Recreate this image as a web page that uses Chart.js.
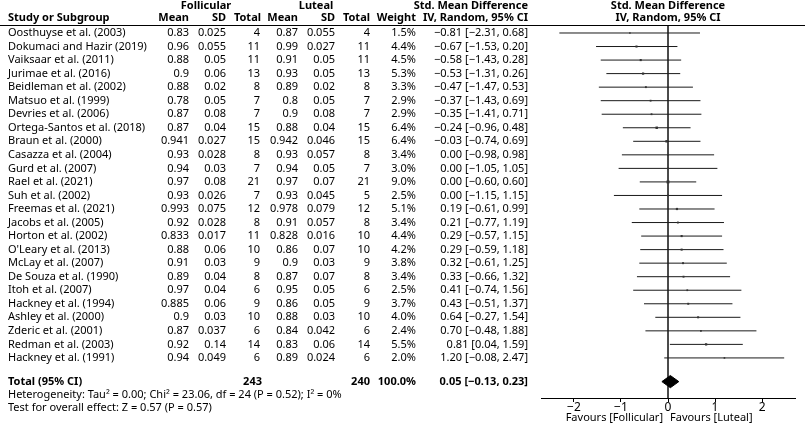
<!DOCTYPE html>
<html>
<head>
<meta charset="utf-8">
<script src="https://cdn.jsdelivr.net/npm/chart.js@4.4.1/dist/chart.umd.min.js"></script>
<style>
  body { margin: 0; background: #fff; }
  #wrap { width: 805px; height: 423px; position: relative; }
</style>
</head>
<body>
<div id="wrap"><canvas id="forest"></canvas></div>
<script>
// Study data
const studies = [
    'Oosthuyse et al. (2003)', 'Dokumaci and Hazir (2019)', 'Vaiksaar et al. (2011)',
    'Jurimae et al. (2016)', 'Beidleman et al. (2002)', 'Matsuo et al. (1999)',
    'Devries et al. (2006)', 'Ortega-Santos et al. (2018)', 'Braun et al. (2000)',
    'Casazza et al. (2004)', 'Gurd et al. (2007)', 'Rael et al. (2021)',
    'Suh et al. (2002)', 'Freemas et al. (2021)', 'Jacobs et al. (2005)',
    'Horton et al. (2002)', "O'Leary et al. (2013)", 'McLay et al. (2007)',
    'De Souza et al. (1990)', 'Itoh et al. (2007)', 'Hackney et al. (1994)',
    'Ashley et al. (2000)', 'Zderic et al. (2001)', 'Redman et al. (2003)',
    'Hackney et al. (1991)'
];
const follMean = [0.83, 0.96, 0.88, 0.9, 0.88, 0.78, 0.87, 0.87, 0.941, 0.93, 0.94, 0.97, 0.93,
    0.993, 0.92, 0.833, 0.88, 0.91, 0.89, 0.97, 0.885, 0.9, 0.87, 0.92, 0.94];
const follSD = [0.025, 0.055, 0.05, 0.06, 0.02, 0.05, 0.08, 0.04, 0.027, 0.028, 0.03, 0.08, 0.026,
    0.075, 0.028, 0.017, 0.06, 0.03, 0.04, 0.04, 0.06, 0.03, 0.037, 0.14, 0.049];
const follN = [4, 11, 11, 13, 8, 7, 7, 15, 15, 8, 7, 21, 7, 12, 8, 11, 10, 9, 8, 6, 9, 10, 6, 14, 6];
const lutMean = [0.87, 0.99, 0.91, 0.93, 0.89, 0.8, 0.9, 0.88, 0.942, 0.93, 0.94, 0.97, 0.93,
    0.978, 0.91, 0.828, 0.86, 0.9, 0.87, 0.95, 0.86, 0.88, 0.84, 0.83, 0.89];
const lutSD = [0.055, 0.027, 0.05, 0.05, 0.02, 0.05, 0.08, 0.04, 0.046, 0.057, 0.05, 0.07, 0.045,
    0.079, 0.057, 0.016, 0.07, 0.03, 0.07, 0.05, 0.05, 0.03, 0.042, 0.06, 0.024];
const lutN = [4, 11, 11, 13, 8, 7, 7, 15, 15, 8, 7, 21, 5, 12, 8, 10, 10, 9, 8, 6, 9, 10, 6, 14, 6];
const weights = [1.5, 4.4, 4.5, 5.3, 3.3, 2.9, 2.9, 6.4, 6.4, 3.4, 3.0, 9.0, 2.5, 5.1, 3.4, 4.4,
    4.2, 3.8, 3.4, 2.5, 3.7, 4.0, 2.4, 5.5, 2.0];
const smd = [-0.81, -0.67, -0.58, -0.53, -0.47, -0.37, -0.35, -0.24, -0.03, 0.00, 0.00, 0.00, 0.00,
    0.19, 0.21, 0.29, 0.29, 0.32, 0.33, 0.41, 0.43, 0.64, 0.70, 0.81, 1.20];
const ciLow = [-2.31, -1.53, -1.43, -1.31, -1.47, -1.43, -1.41, -0.96, -0.74, -0.98, -1.05, -0.60, -1.15,
    -0.61, -0.77, -0.57, -0.59, -0.61, -0.66, -0.74, -0.51, -0.27, -0.48, 0.04, -0.08];
const ciHigh = [0.68, 0.20, 0.28, 0.26, 0.53, 0.69, 0.71, 0.48, 0.69, 0.98, 1.05, 0.60, 1.15,
    0.99, 1.19, 1.15, 1.18, 1.25, 1.32, 1.56, 1.37, 1.54, 1.88, 1.59, 2.47];

// Pooled result
const totalFoll = 243;
const totalLut = 240;
const totalWeight = 100.0;
const totalSmd = 0.05;
const totalLow = -0.13;
const totalHigh = 0.23;
const heterogeneityText = 'Heterogeneity: Tau\u00b2 = 0.00; Chi\u00b2 = 23.06, df = 24 (P = 0.52); I\u00b2 = 0%';
const overallText = 'Test for overall effect: Z = 0.57 (P = 0.57)';

const xTicks = [-2, -1, 0, 1, 2];

// Row positions (row index on the y scale)
const totalRow = 25.75;
const yMin = -0.59;
const yMax = 26.96;

const FONT = '"Noto Sans", "DejaVu Sans", sans-serif';

function fmt(v) {
    const s = v.toFixed(2);
    return v < 0 ? '\u2212' + s.slice(1) : s;
}
function ciText(m, lo, hi) {
    return fmt(m) + ' [' + fmt(lo) + ', ' + fmt(hi) + ']';
}

// CI lines, one dataset per study
const ciSets = studies.map((s, i) => ({
    label: s,
    data: [{ x: ciLow[i], y: i }, { x: ciHigh[i], y: i }],
    showLine: true,
    borderColor: '#1a1a1a',
    borderWidth: 1,
    pointRadius: 0,
    order: 2
}));

const pointSet = {
    label: 'SMD',
    data: smd.map((v, i) => ({ x: v, y: i })),
    pointStyle: 'rect',
    pointRadius: weights.map(w => 0.9 + w * 0.13),
    backgroundColor: '#333',
    borderWidth: 0,
    showLine: false,
    order: 1
};

const zeroLine = {
    label: 'zero',
    data: [{ x: 0, y: yMin }, { x: 0, y: yMax }],
    showLine: true,
    borderColor: '#333',
    borderWidth: 1,
    pointRadius: 0,
    order: 3
};

const diamond = {
    label: 'Total',
    data: [
        { x: totalLow, y: totalRow },
        { x: totalSmd, y: totalRow - 0.45 },
        { x: totalHigh, y: totalRow },
        { x: totalSmd, y: totalRow + 0.45 },
        { x: totalLow, y: totalRow }
    ],
    showLine: true,
    fill: 'shape',
    backgroundColor: '#000',
    borderColor: '#000',
    borderWidth: 1,
    pointRadius: 0,
    tension: 0,
    order: 0
};

// Draws the table part of the forest plot
const tablePlugin = {
    id: 'forestTable',
    afterDraw(chart) {
        const ctx = chart.ctx;
        const y = chart.scales.y;
        const x = chart.scales.x;
        ctx.save();
        ctx.fillStyle = '#000';
        ctx.textBaseline = 'middle';

        function txt(s, px, py, align, bold, size) {
            ctx.font = (bold ? 'bold ' : '') + (size || 11) + 'px ' + FONT;
            ctx.textAlign = align;
            ctx.fillText(s, px, py);
        }

        // headers
        txt('Follicular', 206, 6, 'center', true);
        txt('Luteal', 316, 6, 'center', true);
        txt('Std. Mean Difference', 528, 6, 'right', true);
        txt('IV, Random, 95% CI', 528, 18, 'right', true);
        txt('Std. Mean Difference', x.getPixelForValue(0), 6, 'center', true);
        txt('IV, Random, 95% CI', x.getPixelForValue(0), 18, 'center', true);
        txt('Study or Subgroup', 8, 18, 'left', true);
        txt('Mean', 189, 18, 'right', true);
        txt('SD', 226, 18, 'right', true);
        txt('Total', 261, 18, 'right', true);
        txt('Mean', 298, 18, 'right', true);
        txt('SD', 335, 18, 'right', true);
        txt('Total', 370, 18, 'right', true);
        txt('Weight', 416, 18, 'right', true);

        ctx.strokeStyle = '#000';
        ctx.lineWidth = 1;
        ctx.beginPath();
        ctx.moveTo(0, 25.5);
        ctx.lineTo(805, 25.5);
        ctx.stroke();

        studies.forEach((s, i) => {
            const py = y.getPixelForValue(i);
            txt(s, 8, py, 'left');
            txt(String(follMean[i]), 189, py, 'right');
            txt(String(follSD[i]), 226, py, 'right');
            txt(String(follN[i]), 260, py, 'right');
            txt(String(lutMean[i]), 298, py, 'right');
            txt(String(lutSD[i]), 335, py, 'right');
            txt(String(lutN[i]), 370, py, 'right');
            txt(weights[i].toFixed(1) + '%', 416, py, 'right');
            txt(ciText(smd[i], ciLow[i], ciHigh[i]), 528, py, 'right');
        });

        const ty = y.getPixelForValue(totalRow);
        txt('Total (95% CI)', 8, ty, 'left', true);
        txt(String(totalFoll), 262, ty, 'right', true);
        txt(String(totalLut), 370, ty, 'right', true);
        txt(totalWeight.toFixed(1) + '%', 416, ty, 'right', true);
        txt(ciText(totalSmd, totalLow, totalHigh), 528, ty, 'right', true);
        txt(heterogeneityText, 8, y.getPixelForValue(totalRow + 0.97), 'left');
        txt(overallText, 8, y.getPixelForValue(totalRow + 1.93), 'left');

        // axis captions
        const zx = x.getPixelForValue(0);
        txt('Favours [Follicular]', zx - 5, 418, 'right');
        txt('Favours [Luteal]', zx + 2, 418, 'left');
        ctx.restore();
    }
};

const ctx = document.getElementById('forest').getContext('2d');
const forestChart = new Chart(ctx, {
    type: 'scatter',
    data: { datasets: [diamond, pointSet, ...ciSets, zeroLine] },
    options: {
        responsive: true,
        maintainAspectRatio: false,
        animation: false,
        layout: { padding: { left: 541, right: 10, top: 25, bottom: 0 } },
        plugins: { legend: { display: false }, tooltip: { enabled: false } },
        scales: {
            x: {
                type: 'linear',
                min: -2.7,
                max: 2.7,
                afterBuildTicks: scale => { scale.ticks = xTicks.map(v => ({ value: v })); },
                afterFit: scale => { scale.height = 25; },
                grid: { drawOnChartArea: false, drawTicks: true, tickLength: 4, color: '#000' },
                border: { display: true, color: '#000', width: 1 },
                ticks: {
                    padding: -2,
                    color: '#000',
                    font: { size: 12, family: FONT },
                    callback: v => (v < 0 ? '\u2212' + Math.abs(v) : String(v))
                }
            },
            y: {
                type: 'linear',
                display: false,
                reverse: true,
                min: yMin,
                max: yMax
            }
        }
    },
    plugins: [tablePlugin]
});
</script>
</body>
</html>
